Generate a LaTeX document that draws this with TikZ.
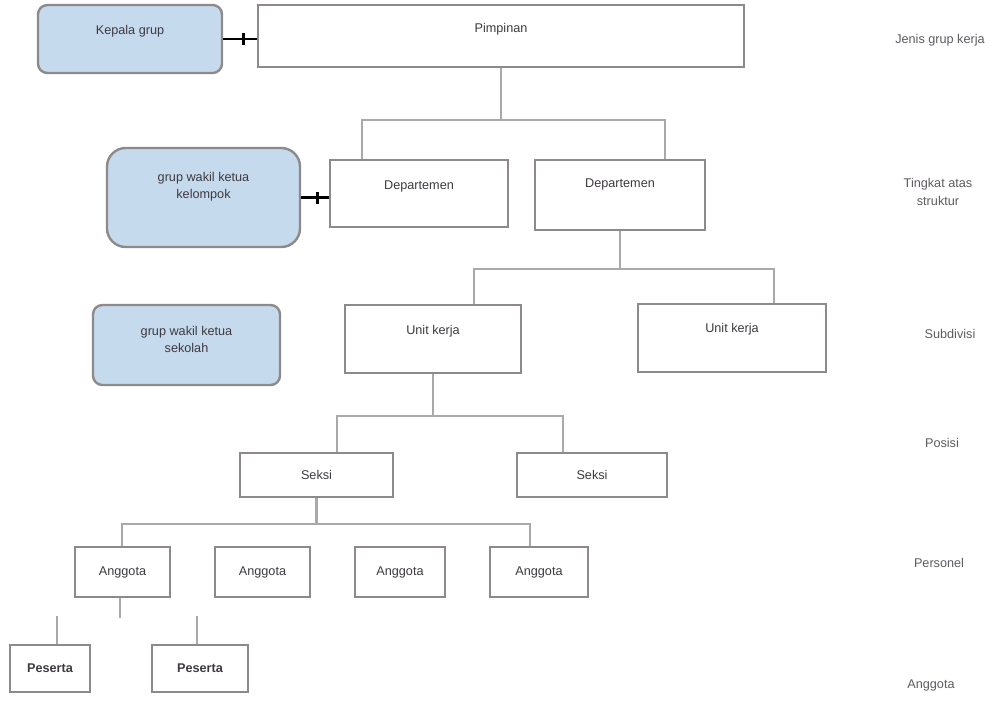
\documentclass[tikz,border=0pt]{standalone}
\usepackage{fontspec}
\setmainfont{Liberation Sans}
\definecolor{boxgray}{HTML}{8E8A8A}
\definecolor{linegray}{HTML}{ABA8A8}
\definecolor{bluefill}{HTML}{C6DAEE}
\definecolor{txt}{HTML}{3E3A40}
\definecolor{lbl}{HTML}{5E5A60}
\tikzset{
  box/.style={draw=boxgray, line width=1.8pt, fill=white, inner sep=0pt, text=txt,
    font=\fontsize{9.5}{12.5}\selectfont, align=center},
  bluebox/.style={box, fill=bluefill, rounded corners=7pt},
  conn/.style={draw=linegray, line width=1.6pt},
  blk/.style={draw=black, line width=2.2pt},
  lev/.style={text=lbl, font=\fontsize{9.5}{13}\selectfont, align=center, inner sep=0pt}
}
\begin{document}
\begin{tikzpicture}[x=0.75pt,y=-0.75pt]
\useasboundingbox (0,0) rectangle (997,708);
% row 1
\node[box, minimum width=486*0.75pt, minimum height=62*0.75pt, text depth=12pt] (top) at (501,36) {Pimpinan};
\node[bluebox, minimum width=184*0.75pt, minimum height=68*0.75pt, text depth=13pt] (b1) at (130,39) {Kepala grup};
% row 2
\node[box, minimum width=178*0.75pt, minimum height=67*0.75pt, text depth=12pt] (k1) at (419,193.5) {Departemen};
\node[box, minimum width=170*0.75pt, minimum height=70*0.75pt, text depth=18pt] (k2) at (620,195) {Departemen};
\node[bluebox, rounded corners=14pt, minimum width=193*0.75pt, minimum height=99*0.75pt, text depth=18pt] (b2) at (203.5,197.5) {grup wakil ketua\\kelompok};
% row 3
\node[box, minimum width=176*0.75pt, minimum height=68*0.75pt, text depth=13pt] (w1) at (433,339) {Unit kerja};
\node[box, minimum width=188*0.75pt, minimum height=68*0.75pt, text depth=15pt] (w2) at (732,338) {Unit kerja};
\node[bluebox, minimum width=187*0.75pt, minimum height=80*0.75pt, text depth=8pt] (b3) at (186.5,345) {grup wakil ketua\\sekolah};
% row 4
\node[box, minimum width=153*0.75pt, minimum height=44*0.75pt] (s1) at (316.5,475) {Seksi};
\node[box, minimum width=150*0.75pt, minimum height=44*0.75pt] (s2) at (592,475) {Seksi};
% row 5
\node[box, minimum width=95*0.75pt, minimum height=50*0.75pt] (n1) at (122.5,572) {Anggota};
\node[box, minimum width=95*0.75pt, minimum height=50*0.75pt] (n2) at (262.5,572) {Anggota};
\node[box, minimum width=90*0.75pt, minimum height=50*0.75pt] (n3) at (400,572) {Anggota};
\node[box, minimum width=98*0.75pt, minimum height=50*0.75pt] (n4) at (539,572) {Anggota};
% row 6
\node[box, minimum width=80*0.75pt, minimum height=47*0.75pt, font=\fontsize{9.5}{12}\selectfont\bfseries] (m1) at (50,668.5) {Peserta};
\node[box, minimum width=96*0.75pt, minimum height=47*0.75pt, font=\fontsize{9.5}{12}\selectfont\bfseries] (m2) at (200,668.5) {Peserta};
% level labels
\node[lev] (l1) at (940,40) {Jenis grup kerja};
\node[lev] (l2) at (938,192) {Tingkat atas\\struktur};
\node[lev] (l3) at (950,334) {Subdivisi};
\node[lev] (l4) at (942,443) {Posisi};
\node[lev] (l5) at (939,563) {Personel};
\node[lev] (l6) at (931,685) {Anggota};
% tree connectors
\draw[conn] (top.south) -- ++(0,52) coordinate (j1);
\draw[conn] (k1.north -| 362,0) |- (j1) -| (k2.north -| 665,0);
\draw[conn] (k2.south) -- ++(0,38) coordinate (j2);
\draw[conn] (w1.north -| 474,0) |- (j2) -| (w2.north -| 774,0);
\draw[conn] (w1.south) -- ++(0,42) coordinate (j3);
\draw[conn] (s1.north -| 337,0) |- (j3) -| (s2.north -| 563,0);
\draw[conn] (s1.south) -- ++(0,26) coordinate (j4);
\draw[conn] (n1.north -| 122,0) |- (j4) -| (n4.north -| 530,0);
\draw[conn] (n2.north -| 262,0) -- (n2.north -| 262,523);
\draw[conn] (n3.north -| 402,0) -- (n3.north -| 402,523);
\draw[conn] (n1.south -| 120,0) -- ++(0,20) coordinate (j5);
\draw[conn] (m1.north -| 57,0) -- ++(0,-28) coordinate (j6);
\draw[conn] (m2.north -| 197,0) -- ++(0,-28) coordinate (j7);
% black side connectors
\draw[blk] (b1.east) -- (b1.east -| top.west) coordinate[pos=0.6] (t1);
\draw[blk] ([yshift=-6*0.75pt]t1) -- ([yshift=6*0.75pt]t1);
\draw[blk] (b2.east) -- (b2.east -| k1.west) coordinate[pos=0.6] (t2);
\draw[blk] ([yshift=-6*0.75pt]t2) -- ([yshift=6*0.75pt]t2);
\end{tikzpicture}
\end{document}
